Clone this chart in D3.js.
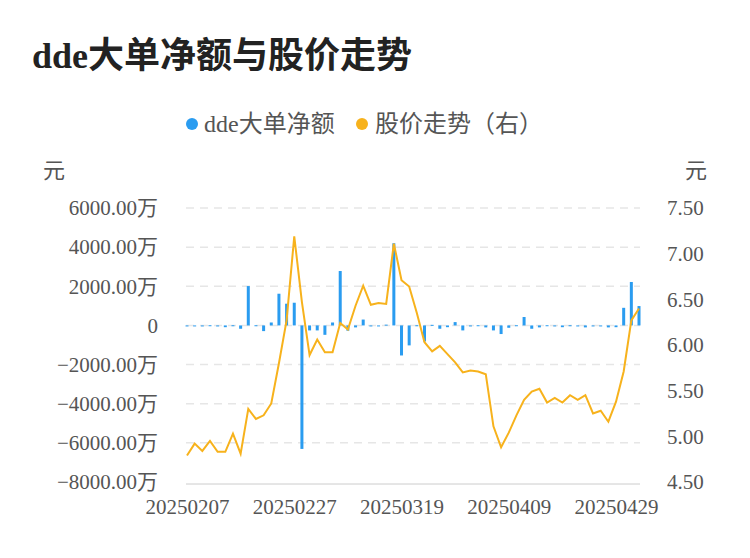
<!DOCTYPE html>
<html><head><meta charset="utf-8">
<script src="https://cdn.jsdelivr.net/npm/d3@7"></script>
<style>body{margin:0;background:#fff}</style></head>
<body><svg id="c" width="750" height="558"></svg>
<script>
const dates=["20250207","20250210","20250211","20250212","20250213","20250214","20250217","20250218","20250219","20250220","20250221","20250224","20250225","20250226","20250227","20250228","20250303","20250304","20250305","20250306","20250307","20250310","20250311","20250312","20250313","20250314","20250317","20250318","20250319","20250320","20250321","20250324","20250325","20250326","20250327","20250328","20250331","20250401","20250402","20250403","20250407","20250408","20250409","20250410","20250411","20250414","20250415","20250416","20250417","20250418","20250421","20250422","20250423","20250424","20250425","20250428","20250429","20250430","20250506","20250507"];
const ddeNet=[-50,-30,-30,10,-20,-90,10,-170,2010,10,-290,150,1620,1110,1160,-6310,-255,-255,-480,150,2780,-270,-100,300,-50,-50,40,4200,-1535,-1020,10,-820,30,-170,-90,170,-255,-30,10,-100,-255,-440,-120,10,430,-170,-100,10,-50,-90,10,-50,-100,-30,-30,-100,-90,900,2220,990];
const price=[4.79,4.92,4.84,4.95,4.83,4.83,5.03,4.81,5.30,5.19,5.23,5.36,5.80,6.27,7.19,6.47,5.89,6.06,5.92,5.92,6.24,6.17,6.43,6.65,6.44,6.46,6.45,7.11,6.71,6.64,6.35,6.03,5.93,5.99,5.90,5.81,5.70,5.72,5.71,5.68,5.11,4.88,5.04,5.23,5.40,5.49,5.52,5.37,5.42,5.37,5.45,5.40,5.45,5.25,5.28,5.16,5.38,5.71,6.27,6.40];
const leftTicks=[6000,4000,2000,0,-2000,-4000,-6000,-8000];
const rightTicks=[7.5,7.0,6.5,6.0,5.5,5.0,4.5];
const shownDates=["20250207","20250227","20250319","20250409","20250429"];

const svg=d3.select("#c");
const font="'Liberation Serif','Noto Sans CJK SC',serif";
const L=186,R=640,T=208,B=482;
const x=d3.scalePoint().domain(dates).range([L+1,R-1]);
const yL=d3.scaleLinear().domain([-8000,6000]).range([B,T]);
const yR=d3.scaleLinear().domain([4.5,7.5]).range([B,T]);
const blue="#2a9cf0",orange="#f7b21c";

svg.append("text").attr("x",32).attr("y",68).attr("font-family",font).attr("font-weight","bold").attr("font-size",36).attr("fill","#222").text("dde大单净额与股价走势");

// legend
const lg=svg.append("g").attr("font-family",font).attr("font-size",24).attr("fill","#555");
lg.append("circle").attr("cx",192).attr("cy",124).attr("r",6).attr("fill",blue);
lg.append("text").attr("x",204).attr("y",132).text("dde大单净额");
lg.append("circle").attr("cx",362).attr("cy",124).attr("r",6).attr("fill",orange);
lg.append("text").attr("x",375).attr("y",132).text("股价走势（右）");

svg.append("text").attr("x",54).attr("y",178).attr("text-anchor","middle").attr("font-family",font).attr("font-size",22).attr("fill","#555").text("元");
svg.append("text").attr("x",696).attr("y",178).attr("text-anchor","middle").attr("font-family",font).attr("font-size",22).attr("fill","#555").text("元");

// grid
svg.append("g").selectAll("line").data(leftTicks.filter(d=>d!==-8000)).join("line")
 .attr("x1",L).attr("x2",R).attr("y1",d=>yL(d)).attr("y2",d=>yL(d))
 .attr("stroke","#e6e6e6").attr("stroke-width",1.5).attr("stroke-dasharray","8,6");
svg.append("line").attr("x1",L).attr("x2",R).attr("y1",B+2).attr("y2",B+2).attr("stroke","#ccc");

const axL=d3.axisLeft(yL).tickValues(leftTicks).tickSize(0).tickPadding(0).tickFormat(d=>d===0?"0":d3.format(".2f")(d)+"万");
svg.append("g").attr("transform","translate(158,0)").call(axL).call(g=>g.select(".domain").remove())
 .selectAll("text").attr("font-family",font).attr("font-size",21).attr("fill","#555");
const axR=d3.axisRight(yR).tickValues(rightTicks).tickSize(0).tickPadding(0).tickFormat(d3.format(".2f"));
svg.append("g").attr("transform","translate(667,0)").call(axR).call(g=>g.select(".domain").remove())
 .selectAll("text").attr("font-family",font).attr("font-size",21).attr("fill","#555");
const axB=d3.axisBottom(x).tickValues(shownDates).tickSize(0).tickPadding(0);
svg.append("g").attr("transform",`translate(0,${B+32})`).call(axB).call(g=>g.select(".domain").remove())
 .selectAll("text").attr("font-family",font).attr("font-size",21).attr("fill","#555").attr("dy","0");

// bars
svg.append("g").selectAll("rect").data(dates).join("rect")
 .attr("x",d=>x(d)-1.5).attr("width",3)
 .attr("y",(d,i)=>Math.min(yL(ddeNet[i]),yL(0)))
 .attr("height",(d,i)=>Math.max(1,Math.abs(yL(ddeNet[i])-yL(0))))
 .attr("fill",blue);

// line
svg.append("path").datum(price).attr("fill","none").attr("stroke",orange).attr("stroke-width",2)
 .attr("d",d3.line().x((d,i)=>x(dates[i])).y(d=>yR(d)));
</script></body></html>
